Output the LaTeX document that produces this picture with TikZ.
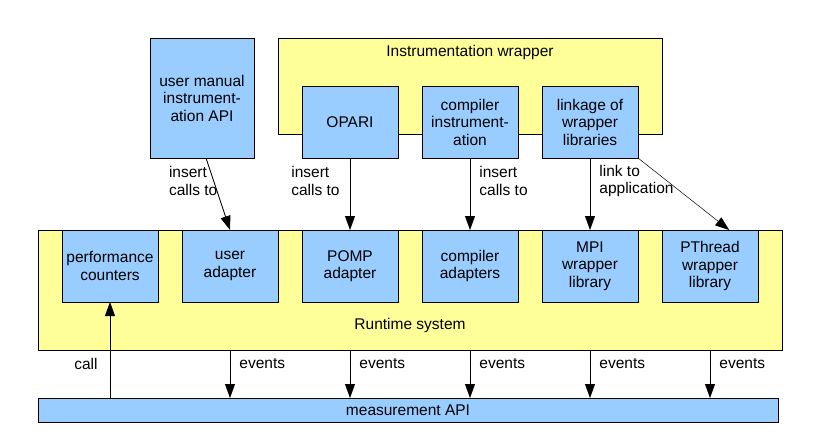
\documentclass[tikz,border=0pt]{standalone}
\usepackage{fontspec}
\setmainfont{Liberation Sans}
\usepackage{tikz}
\usetikzlibrary{arrows.meta, positioning, calc}
\definecolor{boxblue}{RGB}{153,204,255}
\definecolor{boxyellow}{RGB}{255,255,153}

\begin{document}
\begin{tikzpicture}[
    x=1pt, y=-1pt,
    every node/.style={font=\fontsize{15.5}{17.5}\selectfont},
    layer/.style={rectangle, draw=black, fill=boxyellow, line width=0.8pt,
                  outer sep=0pt},
    comp/.style={rectangle, draw=black, fill=boxblue, line width=0.8pt,
                 minimum width=96pt, minimum height=72pt, inner sep=1pt,
                 outer sep=0pt, align=center},
    lbl/.style={inner sep=2pt, align=left},
    arrow/.style={-{Triangle[length=14pt, width=10pt]}, line width=0.8pt},
    node distance=24pt
]
\useasboundingbox (0,0) rectangle (816,447);

% background layers
\node[layer, minimum width=384pt, minimum height=96pt] (wrapper) at (470,86) {};
\node[layer, minimum width=744pt, minimum height=120pt] (runtime) at (410,290) {};
\node[comp, minimum width=740pt, minimum height=24pt] (api) at (408,410) {measurement API};

\node (wraplbl) at ($(wrapper.north)+(0,14)$) {Instrumentation wrapper};
\node (runlbl) at ($(runtime.south)+(0,-25)$) {Runtime system};

% instrumentation
\node[comp, minimum width=104pt, minimum height=120pt] (manual) at (202,98)
    {user manual\\instrument-\\ation API};
\node[comp] (opari) at (350,122) {OPARI};
\node[comp, right=of opari]    (compinst) {compiler\\instrument-\\ation};
\node[comp, right=of compinst] (linkage)  {linkage of\\wrapper\\libraries};

% runtime system
\node[comp] (counters) at (110,266) {performance\\counters};
\node[comp, right=of counters]  (useradapt) {user\\adapter};
\node[comp, right=of useradapt] (pomp)      {POMP\\adapter};
\node[comp, right=of pomp]      (compadapt) {compiler\\adapters};
\node[comp, right=of compadapt] (mpi)       {MPI\\wrapper\\library};
\node[comp, right=of mpi]       (pthread)   {PThread\\wrapper\\library};

% instrumentation -> runtime
\draw[arrow] ($(manual.south)+(4,0)$) -- node[lbl, pos=0.32, left=-6pt] {insert\\calls to} (useradapt.north);
\draw[arrow] (opari.south) -- node[lbl, pos=0.32, left=8pt] {insert\\calls to} (pomp.north);
\draw[arrow] (compinst.south) -- node[lbl, pos=0.32, right=7pt] {insert\\calls to} (compadapt.north);
\draw[arrow] (linkage.south) -- node[lbl, pos=0.32, right=7pt] {link to\\application} (mpi.north);
\draw[arrow, line width=0.5pt] (linkage.south east) -- ($(pthread.north west)!0.7!(pthread.north east)$);

% runtime <-> measurement
\draw[arrow] (counters |- api.north) -- node[lbl, pos=0.35, left=10pt] {call} (counters.south);
\draw[arrow] (useradapt |- runtime.south) -- node[lbl, pos=0.29, right=7pt] {events} (useradapt |- api.north);
\draw[arrow] (pomp |- runtime.south) -- node[lbl, pos=0.29, right=7pt] {events} (pomp |- api.north);
\draw[arrow] (compadapt |- runtime.south) -- node[lbl, pos=0.29, right=7pt] {events} (compadapt |- api.north);
\draw[arrow] (mpi |- runtime.south) -- node[lbl, pos=0.29, right=7pt] {events} (mpi |- api.north);
\draw[arrow] (pthread |- runtime.south) -- node[lbl, pos=0.29, right=7pt] {events} (pthread |- api.north);
\end{tikzpicture}
\end{document}
